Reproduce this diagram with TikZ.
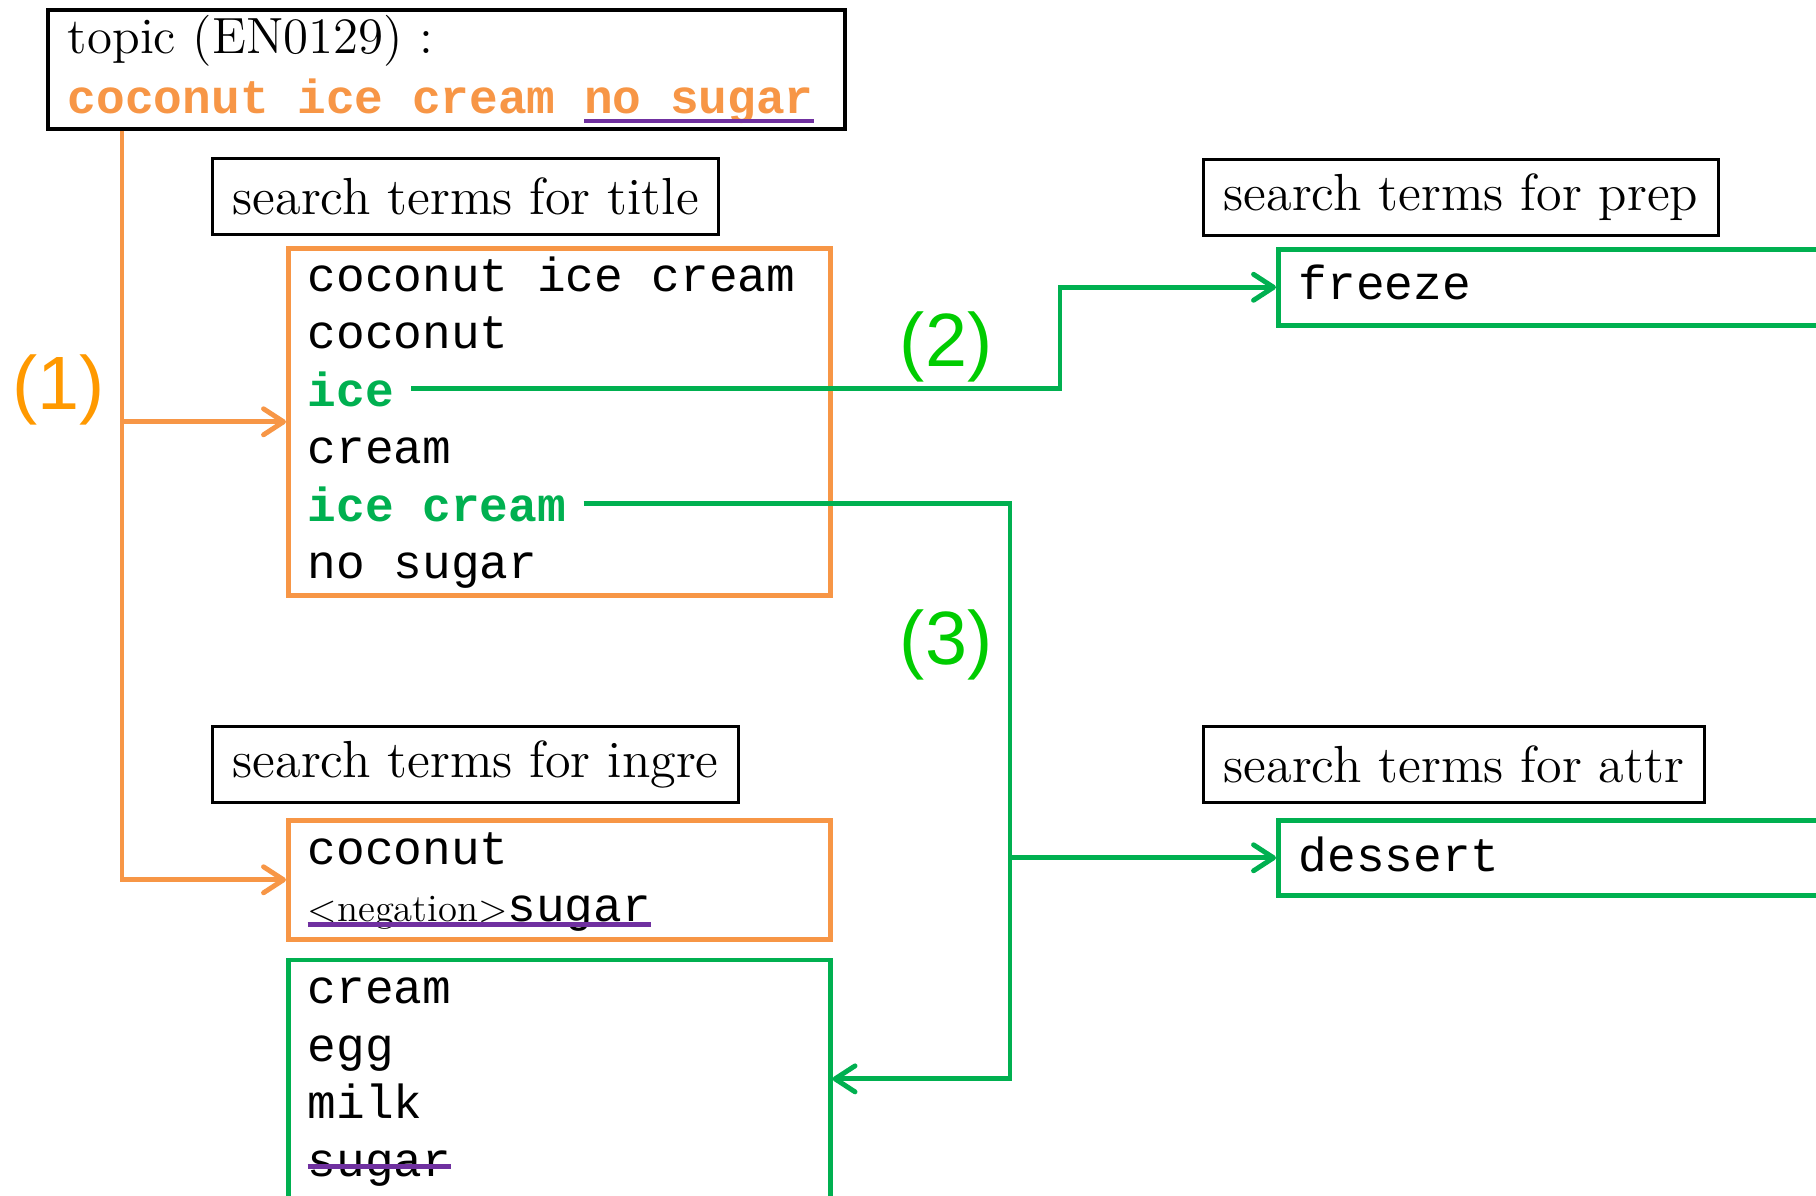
\documentclass[tikz,border=0pt]{standalone}
\usepackage{fontspec}
\setmonofont{Liberation Mono}
\newfontfamily\labelfont{Liberation Sans}
\usetikzlibrary{arrows.meta, positioning}
\definecolor{kworange}{HTML}{F79646}
\definecolor{kwlabelorange}{HTML}{FF9900}
\definecolor{kwgreen}{HTML}{00B050}
\definecolor{kwlabelgreen}{HTML}{00CC00}
\definecolor{kwpurple}{HTML}{7030A0}
\newcommand{\termfont}{\fontsize{13.6}{16}\selectfont\ttfamily}
\newcommand{\headfont}{\fontsize{14.85}{16}\selectfont}
\newcommand{\topicfont}{\fontsize{14.5}{16}\selectfont}
\newsavebox{\markbox}
\newcommand{\underpurple}[2]{\sbox{\markbox}{#2}\usebox{\markbox}\llap{\color{kwpurple}\rule[#1]{\wd\markbox}{1.2pt}}}
\newcommand{\strikepurple}[1]{\sbox{\markbox}{#1}\usebox{\markbox}\llap{\color{kwpurple}\rule[2pt]{\wd\markbox}{1.4pt}}}
\tikzset{
  headbox/.style={rectangle, draw=black, line width=0.9pt, minimum height=0.76cm, inner xsep=0.2cm, font=\headfont},
  termbox/.style={rectangle, line width=1.3pt, minimum width=5.42cm},
  term/.style={inner xsep=0.17cm, text height=11.4pt, text depth=1.2pt, font=\termfont, anchor=base west},
  hitterm/.style={term, text=kwgreen, font=\termfont\bfseries},
  steplabel/.style={font=\labelfont\fontsize{21.5}{24}\selectfont},
  oarr/.style={-{Straight Barb[length=2mm, width=2.6mm, round]}, line width=1.4pt, kworange},
  garr/.style={oarr, kwgreen},
}
\begin{document}
\begin{tikzpicture}
  \useasboundingbox (0,0) rectangle (18.16,-11.95);
  % topic
  \node[draw, line width=1.1pt, anchor=north west, inner xsep=0.2cm, inner ysep=1pt, minimum width=7.96cm, minimum height=1.19cm, align=left, font=\topicfont] (topic) at (0.46,-0.08)
    {topic (EN0129) :\\[1pt]{\termfont\bfseries\color{kworange}coconut ice cream \underpurple{-2.8pt}{no sugar}}\hspace*{0.11cm}};
  % boxes
  \node[termbox, draw=kworange, anchor=north west, minimum height=3.47cm] (titlebox) at (2.86,-2.46) {};
  \node[termbox, draw=kworange, anchor=north west, minimum height=1.19cm] (ingrebox) at (2.86,-8.18) {};
  \node[termbox, draw=kwgreen, below=0.16cm of ingrebox, minimum height=2.38cm] (extrabox) {};
  \node[termbox, draw=kwgreen, anchor=north west, minimum width=5.64cm, minimum height=0.76cm] (prepbox) at (12.76,-2.47) {};
  \node[termbox, draw=kwgreen, anchor=north west, minimum width=5.64cm, minimum height=0.75cm] (attrbox) at (12.76,-8.18) {};
  % headers
  \node[headbox, above right=0.1cm and -0.75cm of titlebox.north west] (titlehead) {search terms for title};
  \node[headbox, above right=0.14cm and -0.75cm of ingrebox.north west] (ingrehead) {search terms for ingre};
  \node[headbox, above right=0.1cm and -0.74cm of prepbox.north west] (prephead) {search terms for prep};
  \node[headbox, above right=0.14cm and -0.74cm of attrbox.north west] (attrhead) {search terms for attr};
  % terms
  \foreach \w/\s [count=\i] in {coconut ice cream/term, coconut/term, ice/hitterm, cream/term, ice cream/hitterm, no sugar/term}
    \node[\s] (t\i) at ([shift={(0.04,{-0.45-0.575*(\i-1)})}]titlebox.north west) {\w};
  \node[term] (i1) at ([shift={(0.04,-0.46)}]ingrebox.north west) {coconut};
  \node[term] (i2) at ([shift={(0.04,-1.03)}]ingrebox.north west) {\underpurple{-1.6pt}{{\rmfamily\fontsize{11}{13}\selectfont <negation>}sugar}};
  \foreach \w [count=\i] in {cream, egg, milk, \strikepurple{sugar}}
    \node[term] (e\i) at ([shift={(0.04,{-0.46-0.575*(\i-1)})}]extrabox.north west) {\w};
  \node[term] (p1) at ([shift={(0.05,-0.52)}]prepbox.north west) {freeze};
  \node[term] (a1) at ([shift={(0.05,-0.53)}]attrbox.north west) {dessert};
  % connectors
  \coordinate (ox) at (1.22,0);
  \coordinate (gx2) at (10.60,0);
  \coordinate (gx3) at (10.10,0);
  \draw[oarr] (topic.south -| ox) |- (ingrebox.west);
  \draw[oarr] (titlebox.west -| ox) -- (titlebox.west);
  \draw[garr] (t3.east) -- (t3.east -| gx2) |- (prepbox.west);
  \draw[garr] (t5.east) -- (t5.east -| gx3) |- (extrabox.east);
  \draw[garr] (attrbox.west -| gx3) -- (attrbox.west);
  % labels
  \node[steplabel, text=kwlabelorange] (lab1) at (0.585,-3.90) {(1)};
  \node[steplabel, text=kwlabelgreen] (lab2) at (9.46,-3.47) {(2)};
  \node[steplabel, text=kwlabelgreen] (lab3) at (9.46,-6.45) {(3)};
\end{tikzpicture}
\end{document}
